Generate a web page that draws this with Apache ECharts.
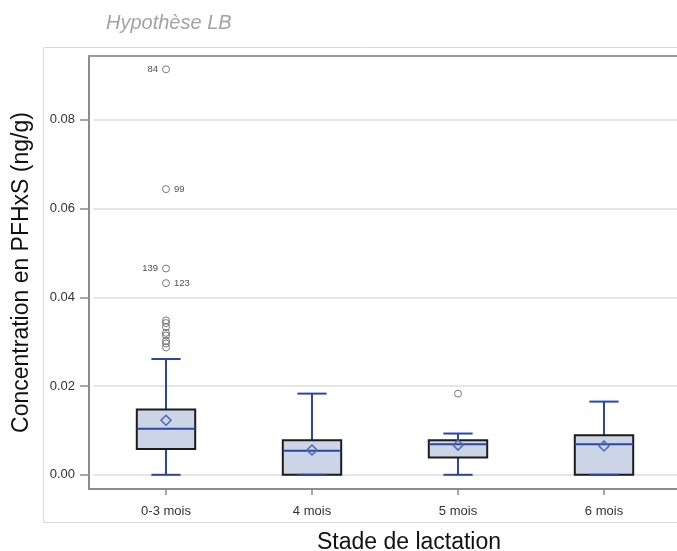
<!DOCTYPE html>
<html>
<head>
<meta charset="utf-8">
<script src="https://cdn.jsdelivr.net/npm/echarts@6/dist/echarts.min.js"></script>
<style>
  html, body { margin: 0; padding: 0; background: #fff; }
  #chart { width: 677px; height: 551px; }
</style>
</head>
<body>
<div id="chart"></div>
<script>
// Lactation stages on the x axis
const categories = ['0-3 mois', '4 mois', '5 mois', '6 mois'];

// Box statistics per stage (ng/g)
const whiskerLow  = [0.0000, 0.0000, 0.0000, 0.0000];
const quartile1   = [0.0058, 0.0000, 0.0039, 0.0000];
const medians     = [0.0104, 0.0054, 0.0069, 0.0069];
const quartile3   = [0.0147, 0.0078, 0.0078, 0.0089];
const whiskerHigh = [0.0261, 0.0183, 0.0093, 0.0165];
const means       = [0.0123, 0.0056, 0.0067, 0.0065];

// Outlying observations: stage index, value, observation id ('' = unlabelled)
const outlierStage = [0, 0, 0, 0, 0, 0, 0, 0, 0, 0, 0, 0, 2];
const outlierValue = [0.0914, 0.0644, 0.0465, 0.0432, 0.0348, 0.0342, 0.0333, 0.0320, 0.0314, 0.0302, 0.0296, 0.0287, 0.0183];
const outlierId    = ['84', '99', '139', '123', '', '', '', '', '', '', '', '', ''];

// Y tick labels
const yTicks = [0, 0.02, 0.04, 0.06, 0.08];

const FONT = "'Liberation Sans', Arial, sans-serif";
const BLUE = '#2b47a6';

const boxData = categories.map((c, i) => [i, whiskerLow[i], quartile1[i], medians[i], quartile3[i], whiskerHigh[i], means[i]]);

const leftLabelIds = { '84': true, '139': true };
const outlierData = outlierValue.map((v, i) => ({
  value: [outlierStage[i], v],
  label: {
    show: outlierId[i] !== '',
    formatter: outlierId[i],
    position: leftLabelIds[outlierId[i]] ? 'left' : 'right',
    distance: 4
  }
}));

function renderBox(params, api) {
  const x = api.value(0);
  const pLow = api.coord([x, api.value(1)]);
  const pQ1 = api.coord([x, api.value(2)]);
  const pMed = api.coord([x, api.value(3)]);
  const pQ3 = api.coord([x, api.value(4)]);
  const pHigh = api.coord([x, api.value(5)]);
  const pMean = api.coord([x, api.value(6)]);
  const bw = api.size([1, 0])[0] * 0.4;
  const cx = pMed[0];
  const half = bw / 2;
  const cap = bw / 4;
  const line = { stroke: BLUE, lineWidth: 2, fill: null };
  const d = 5;
  return {
    type: 'group',
    children: [
      { type: 'line', shape: { x1: cx, y1: pHigh[1], x2: cx, y2: pQ3[1] }, style: line },
      { type: 'line', shape: { x1: cx, y1: pQ1[1], x2: cx, y2: pLow[1] }, style: line },
      { type: 'rect', shape: { x: cx - half, y: pQ3[1], width: bw, height: pQ1[1] - pQ3[1] },
        style: { fill: '#cbd5e5', stroke: '#1c1c1c', lineWidth: 2 } },
      { type: 'line', shape: { x1: cx - half, y1: pMed[1], x2: cx + half, y2: pMed[1] }, style: line },
      { type: 'line', shape: { x1: cx - cap, y1: pHigh[1], x2: cx + cap, y2: pHigh[1] }, style: line },
      { type: 'line', shape: { x1: cx - cap, y1: pLow[1], x2: cx + cap, y2: pLow[1] }, style: line },
      { type: 'polygon', shape: { points: [[cx, pMean[1] - d], [cx + d, pMean[1]], [cx, pMean[1] + d], [cx - d, pMean[1]]] },
        style: { fill: null, stroke: '#4f66bd', lineWidth: 1.5 } }
    ]
  };
}

const chart = echarts.init(document.getElementById('chart'), null, { renderer: 'canvas' });

chart.setOption({
  backgroundColor: '#ffffff',
  animation: false,
  title: {
    text: 'Hypothèse LB',
    left: 101,
    top: 8,
    textStyle: { fontFamily: FONT, fontStyle: 'italic', fontWeight: 'normal', fontSize: 20, color: '#a3a3a3' }
  },
  graphic: [
    { type: 'rect', z: -10, silent: true,
      shape: { x: 43.5, y: 47.5, width: 700, height: 475 },
      style: { fill: null, stroke: '#dadada', lineWidth: 1 } },
    { type: 'line', z: 10, silent: true,
      shape: { x1: 88, y1: 56, x2: 677, y2: 56 },
      style: { stroke: '#9a9a9a', lineWidth: 2 } },
    { type: 'line', z: 10, silent: true,
      shape: { x1: 88, y1: 489, x2: 94, y2: 489 },
      style: { stroke: '#8c8c8c', lineWidth: 2 } },
    { type: 'text', silent: true,
      style: { text: 'Stade de lactation', x: 409, y: 543, align: 'center', verticalAlign: 'middle',
               font: "23px 'Liberation Sans', Arial, sans-serif", fill: '#111' } }
  ],
  grid: { left: 93, top: 56, right: 0, bottom: 62, containLabel: false },
  xAxis: {
    type: 'category',
    data: categories,
    boundaryGap: true,
    axisLine: { show: true, onZero: false, lineStyle: { color: '#8c8c8c', width: 2 } },
    axisTick: { show: true, alignWithLabel: true, length: 6, lineStyle: { color: '#8c8c8c', width: 1.5 } },
    axisLabel: { margin: 16, fontFamily: FONT, fontSize: 13, color: '#333' },
    splitLine: { show: false }
  },
  yAxis: {
    type: 'value',
    min: -0.0032,
    max: 0.0944,
    offset: 4,
    name: 'Concentration en PFHxS (ng/g)',
    nameLocation: 'middle',
    nameRotate: 90,
    nameGap: 56,
    nameTextStyle: { fontFamily: FONT, fontSize: 23, color: '#111' },
    axisLine: { show: true, lineStyle: { color: '#8c8c8c', width: 2 } },
    axisTick: { show: true, customValues: yTicks, length: 9, lineStyle: { color: '#8c8c8c', width: 1.5 } },
    axisLabel: { customValues: yTicks, margin: 14, fontFamily: FONT, fontSize: 13, color: '#333',
                 formatter: v => v.toFixed(2) },
    splitLine: { show: false }
  },
  series: [
    {
      // horizontal reference lines at each tick value, kept beneath the boxes
      type: 'line',
      data: [],
      z: 1,
      silent: true,
      markLine: {
        z: 1,
        silent: true,
        symbol: 'none',
        label: { show: false },
        lineStyle: { color: '#e6e6e6', width: 2, type: 'solid' },
        data: yTicks.map(v => ({ yAxis: v }))
      }
    },
    {
      type: 'custom',
      z: 3,
      renderItem: renderBox,
      encode: { x: 0, y: [1, 2, 3, 4, 5, 6] },
      data: boxData
    },
    {
      type: 'scatter',
      z: 4,
      symbol: 'circle',
      symbolSize: 7,
      itemStyle: { color: 'rgba(255,255,255,0)', borderColor: '#5a5a5a', borderWidth: 1 },
      label: { fontFamily: FONT, fontSize: 9.5, color: '#222' },
      data: outlierData
    }
  ]
});
</script>
</body>
</html>
